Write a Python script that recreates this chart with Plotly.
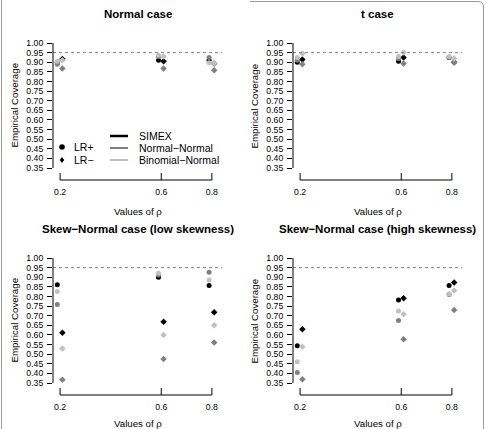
import plotly.graph_objects as go

W, H = 486, 429

rho = [0.2, 0.6, 0.8]
methods = ["SIMEX", "Normal\u2212Normal", "Binomial\u2212Normal"]
colors = {"SIMEX": "#000000", "Normal\u2212Normal": "#808080", "Binomial\u2212Normal": "#c0c0c0"}

titles = ["Normal case", "t case",
          "Skew\u2212Normal case (low skewness)", "Skew\u2212Normal case (high skewness)"]

# LR+ (circles) and LR- (diamonds) empirical coverage per method, at rho = 0.2, 0.6, 0.8
normal_lrpos = {"SIMEX": [0.900, 0.910, 0.910], "Normal\u2212Normal": [0.890, 0.930, 0.924], "Binomial\u2212Normal": [0.905, 0.936, 0.897]}
normal_lrneg = {"SIMEX": [0.917, 0.905, 0.893], "Normal\u2212Normal": [0.867, 0.867, 0.858], "Binomial\u2212Normal": [0.910, 0.930, 0.895]}

t_lrpos = {"SIMEX": [0.900, 0.905, 0.925], "Normal\u2212Normal": [0.910, 0.920, 0.925], "Binomial\u2212Normal": [0.924, 0.930, 0.930]}
t_lrneg = {"SIMEX": [0.914, 0.924, 0.900], "Normal\u2212Normal": [0.890, 0.893, 0.898], "Binomial\u2212Normal": [0.945, 0.950, 0.920]}

low_lrpos = {"SIMEX": [0.861, 0.900, 0.857], "Normal\u2212Normal": [0.758, 0.912, 0.926], "Binomial\u2212Normal": [0.826, 0.921, 0.886]}
low_lrneg = {"SIMEX": [0.611, 0.668, 0.718], "Normal\u2212Normal": [0.367, 0.475, 0.561], "Binomial\u2212Normal": [0.530, 0.600, 0.650]}

high_lrpos = {"SIMEX": [0.544, 0.782, 0.857], "Normal\u2212Normal": [0.404, 0.675, 0.810], "Binomial\u2212Normal": [0.460, 0.724, 0.814]}
high_lrneg = {"SIMEX": [0.630, 0.791, 0.872], "Normal\u2212Normal": [0.370, 0.578, 0.730], "Binomial\u2212Normal": [0.538, 0.707, 0.831]}

panels = [(normal_lrpos, normal_lrneg), (t_lrpos, t_lrneg),
          (low_lrpos, low_lrneg), (high_lrpos, high_lrneg)]

yticks = [round(0.35 + 0.05 * i, 2) for i in range(14)]
ytick_text = ["%.2f" % v for v in yticks]
ref_line = 0.95
off_pos, off_neg = -0.011, 0.009

FONT = "Liberation Sans, Arial, sans-serif"

# panel geometry in page pixels: (x0, x1, ytop, ybottom)
geo = [(53, 222, 38, 173), (293, 462, 38, 173),
       (53, 222, 253, 388), (293, 462, 253, 388)]

def px(x):
    return x / W

def py(y):
    return 1 - y / H

fig = go.Figure()
layout = dict(width=W, height=H, margin=dict(l=0, r=0, t=0, b=0),
              paper_bgcolor="white", plot_bgcolor="white", showlegend=False,
              font=dict(family=FONT, color="black"))
shapes, annotations = [], []

for i, ((lrpos, lrneg), (x0, x1, yt, yb)) in enumerate(zip(panels, geo)):
    n = "" if i == 0 else str(i + 1)
    xa, ya = "x" + n, "y" + n
    layout["xaxis" + n] = dict(domain=[px(x0), px(x1)], range=[0.172, 0.84], anchor=ya,
                               showgrid=False, zeroline=False, showline=False,
                               tickvals=rho, ticktext=[str(r) for r in rho],
                               ticks="outside", ticklen=0, tickcolor="white",
                               ticklabelstandoff=11,
                               tickfont=dict(size=8.7, family=FONT, color="black"))
    layout["yaxis" + n] = dict(domain=[py(yb), py(yt)], range=[0.324, 1.026], anchor=xa,
                               showgrid=False, zeroline=False, showline=False,
                               tickvals=yticks, ticktext=ytick_text,
                               ticks="outside", ticklen=5, tickwidth=1, tickcolor="black",
                               ticklabelstandoff=2,
                               tickfont=dict(size=8.7, family=FONT, color="black"))
    for m in methods:
        fig.add_trace(go.Scatter(x=[r + off_pos for r in rho], y=lrpos[m], mode="markers",
                                 marker=dict(symbol="circle", size=5, color=colors[m]),
                                 xaxis=xa, yaxis=ya, name=m + " LR+"))
        fig.add_trace(go.Scatter(x=[r + off_neg for r in rho], y=lrneg[m], mode="markers",
                                 marker=dict(symbol="diamond", size=5, color=colors[m]),
                                 xaxis=xa, yaxis=ya, name=m + " LR\u2212"))
    # reference dashed line
    shapes.append(dict(type="line", xref=xa + " domain", yref=ya, x0=0, x1=1,
                       y0=ref_line, y1=ref_line, line=dict(color="#808080", width=1, dash="3px,3px")))
    # y axis line from first to last tick
    shapes.append(dict(type="line", xref=xa + " domain", yref=ya, x0=0, x1=0,
                       y0=yticks[0], y1=yticks[-1], line=dict(color="black", width=1)))
    # x axis line below the plot region with ticks pointing up
    drop = 7 / (yb - yt)
    shapes.append(dict(type="line", xref=xa, yref=ya + " domain", x0=rho[0], x1=rho[-1],
                       y0=-drop, y1=-drop, line=dict(color="black", width=1)))
    for r in rho:
        shapes.append(dict(type="line", xref=xa, yref=ya + " domain", x0=r, x1=r,
                           y0=-drop, y1=0, line=dict(color="black", width=1)))
    cx = (x0 + x1) / 2
    annotations.append(dict(text="<b>%s</b>" % titles[i], xref="paper", yref="paper",
                            x=px(cx), y=py(yt - 24), xanchor="center", yanchor="middle",
                            showarrow=False, font=dict(size=11.5, family=FONT, color="black")))
    annotations.append(dict(text="Values of \u03c1", xref="paper", yref="paper",
                            x=px(cx), y=py(min(yb + 38, 423)), xanchor="center", yanchor="middle",
                            showarrow=False, font=dict(size=9.7, family=FONT, color="black")))
    annotations.append(dict(text="Empirical Coverage", xref="paper", yref="paper",
                            x=px(x0 - 39), y=py((yt + yb) / 2), xanchor="center", yanchor="middle",
                            textangle=-90, showarrow=False,
                            font=dict(size=9.7, family=FONT, color="black")))

# legend (panel 1)
lx, ly1, ly2 = 62, 147, 160
shapes.append(dict(type="circle", xref="paper", yref="paper",
                   x0=px(lx - 2.8), x1=px(lx + 2.8), y0=py(ly1 + 2.8), y1=py(ly1 - 2.8),
                   fillcolor="black", line=dict(width=0)))
shapes.append(dict(type="path", xref="paper", yref="paper",
                   path="M %f %f L %f %f L %f %f L %f %f Z" % (
                       px(lx), py(ly2 - 3), px(lx + 2.3), py(ly2), px(lx), py(ly2 + 3), px(lx - 2.3), py(ly2)),
                   fillcolor="black", line=dict(width=0)))
for txt, yy in [("LR+", ly1), ("LR\u2212", ly2)]:
    annotations.append(dict(text=txt, xref="paper", yref="paper", x=px(72), y=py(yy),
                            xanchor="left", yanchor="middle", showarrow=False,
                            font=dict(size=10.5, family=FONT, color="black")))
for m, yy, wd in [("SIMEX", 136, 2.5), ("Normal\u2212Normal", 148, 2), ("Binomial\u2212Normal", 160, 2)]:
    shapes.append(dict(type="line", xref="paper", yref="paper", x0=px(110), x1=px(128),
                       y0=py(yy), y1=py(yy), line=dict(color=colors[m], width=wd)))
    annotations.append(dict(text=m, xref="paper", yref="paper", x=px(137), y=py(yy),
                            xanchor="left", yanchor="middle", showarrow=False,
                            font=dict(size=10.5, family=FONT, color="black")))

# outer frame
shapes.append(dict(type="line", xref="paper", yref="paper", x0=px(1.5), x1=px(1.5),
                   y0=0, y1=1, line=dict(color="#999999", width=1)))
shapes.append(dict(type="path", xref="paper", yref="paper",
                   path="M %f %f L %f %f Q %f %f %f %f L %f %f" % (
                       px(250), py(1.5), px(478), py(1.5), px(483.5), py(1.5), px(483.5), py(7),
                       px(483.5), 0),
                   line=dict(color="#999999", width=1)))

layout["shapes"] = shapes
layout["annotations"] = annotations
fig.update_layout(**layout)
fig.write_html("out.html")
